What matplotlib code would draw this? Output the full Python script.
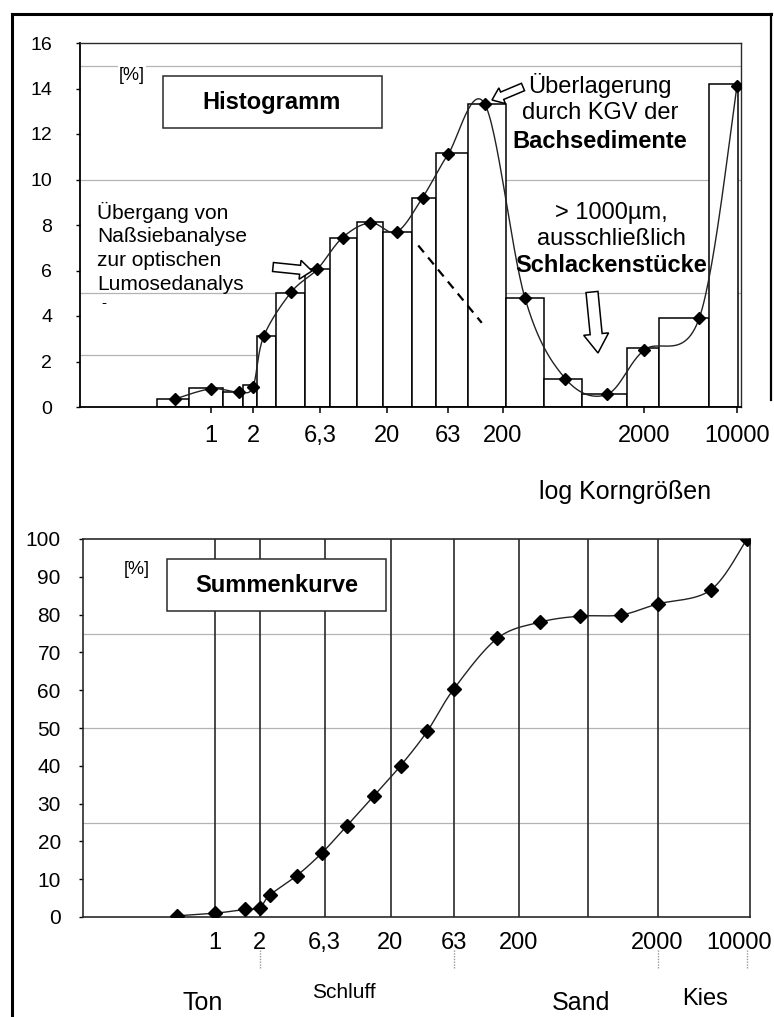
import numpy as np
import matplotlib
matplotlib.use("Agg")
import matplotlib.pyplot as plt
from matplotlib.patches import FancyArrow, Rectangle
from matplotlib.transforms import blended_transform_factory, ScaledTranslation

# ---------------- data ----------------
grain_size = [0.55, 1.0, 1.6, 2.0, 2.4, 3.85, 6.0, 9.3, 15, 24, 39, 63,
              137, 286, 553, 1090, 2000, 5200, 10000]          # µm
hist_pct = [0.35, 0.8, 0.65, 0.9, 3.1, 5.05, 6.05, 7.45, 8.1, 7.7, 9.2,
            11.1, 13.3, 4.8, 1.25, 0.55, 2.5, 3.9, 14.1]
bin_edges = [0.41, 0.70, 1.22, 1.70, 2.14, 2.97, 4.9, 7.5, 11.9, 18.7, 32,
             50, 96, 210, 390, 725, 1510, 2590, 6170, 10190]
bin_height = [0.35, 0.83, 0.65, 0.97, 3.1, 5.0, 6.05, 7.45, 8.15, 7.7, 9.2,
              11.15, 13.3, 4.8, 1.25, 0.57, 2.6, 3.9, 14.2]
cum_pct = [0.3, 1.0, 2.0, 2.4, 5.8, 10.9, 16.9, 24.1, 32.1, 40.0, 49.1,
           60.2, 73.7, 78.0, 79.6, 79.9, 82.8, 86.5, 100]
tick_vals = [1, 2, 6.3, 20, 63, 200, 2000, 10000]
tick_labels = ["1", "2", "6,3", "20", "63", "200", "2000", "10000"]
class_bounds = [1, 2, 6.3, 20, 63, 200, 630, 2000]
class_marks = [2, 63, 2000, 10000]
class_names = ["Ton", "Schluff", "Sand", "Kies"]
hist_grid = [15, 10, 5]
cum_grid = [25, 50, 75]
trend_x = [36, 128]
trend_y = [7.1, 3.7]

# ---------------- layout ----------------
W, H = 774, 1017
fig = plt.figure(figsize=(W / 100, H / 100), dpi=100)
fig.patch.set_facecolor("white")
FONT = "Liberation Sans"
plt.rcParams["font.family"] = [FONT, "DejaVu Sans"]


def px_axes(l, t, r, b):
    return fig.add_axes([l / W, 1 - b / H, (r - l) / W, (b - t) / H])


def make_scale(vals, pos):
    L = np.log10(vals)
    pos = np.asarray(pos, float)
    s0 = (pos[1] - pos[0]) / (L[1] - L[0])
    s1 = (pos[-1] - pos[-2]) / (L[-1] - L[-2])
    Lx = np.concatenate([[L[0] - 10], L, [L[-1] + 10]])
    Px = np.concatenate([[pos[0] - 10 * s0], pos, [pos[-1] + 10 * s1]])

    def fwd(x):
        return np.interp(np.log10(np.clip(np.asarray(x, float), 1e-12, None)), Lx, Px)

    def inv(u):
        return 10 ** np.interp(np.asarray(u, float), Px, Lx)
    return fwd, inv


def smooth(x, y, fwd, inv, n=30):
    P = np.column_stack([fwd(np.asarray(x, float)), np.asarray(y, float)])
    P = np.vstack([P[0], P, P[-1]])
    out = []
    t = np.linspace(0, 1, n, endpoint=False)[:, None]
    for i in range(1, len(P) - 2):
        p0, p1, p2, p3 = P[i - 1], P[i], P[i + 1], P[i + 2]
        c1 = p1 + (p2 - p0) / 6
        c2 = p2 - (p3 - p1) / 6
        out.append((1 - t) ** 3 * p1 + 3 * (1 - t) ** 2 * t * c1
                   + 3 * (1 - t) * t ** 2 * c2 + t ** 3 * p2)
    out.append(P[-2][None, :])
    S = np.vstack(out)
    return inv(S[:, 0]), S[:, 1]


GRID_LIGHT = "#b4b4b4"
DARK = "#2a2a2a"

# ================= top: Histogramm =================
fwd_t, inv_t = make_scale(tick_vals, [211, 253, 320, 387, 448, 503, 644, 737])
ax1 = px_axes(80, 43, 741, 407)
ax1.set_xscale("function", functions=(fwd_t, inv_t))
ax1.set_xlim(inv_t(80), inv_t(741))
ax1.set_ylim(0, 16)
for g in hist_grid:
    ax1.axhline(g, color=GRID_LIGHT, lw=0.9, zorder=0.5)
ax1.axhline(2.3, xmax=0.27, color=GRID_LIGHT, lw=0.9, zorder=0.5)

edges = np.asarray(bin_edges)
ax1.bar(edges[:-1], bin_height, width=np.diff(edges), align="edge",
        facecolor="white", edgecolor="black", linewidth=1.1, zorder=2)
sx, sy = smooth(grain_size, hist_pct, fwd_t, inv_t)
ax1.plot(sx, sy, color="#222222", lw=1.0, zorder=3)
ax1.plot(grain_size, hist_pct, ls="none", marker="D", ms=6.5,
         color="black", zorder=4)
ax1.plot(trend_x, trend_y, ls=(0, (4, 3)), color="black", lw=1.6, zorder=3)

ax1.set_xticks(tick_vals)
ax1.set_xticklabels(tick_labels)
ax1.xaxis.set_minor_locator(matplotlib.ticker.NullLocator())
ax1.set_yticks(range(0, 17, 2))
ax1.tick_params(axis="x", direction="inout", length=8, width=1.1,
                labelsize=17, pad=9, colors="black")
ax1.tick_params(axis="y", direction="out", length=3, width=1.0,
                labelsize=14, pad=17)
for s in ["left", "bottom"]:
    ax1.spines[s].set_linewidth(1.3)
    ax1.spines[s].set_color("black")
for s in ["top", "right"]:
    ax1.spines[s].set_linewidth(1.0)
    ax1.spines[s].set_color(DARK)

# ================= bottom: Summenkurve =================
fwd_b, inv_b = make_scale(tick_vals, [215, 259.5, 324.5, 390.5, 453.5, 518.5, 657.5, 747])
ax2 = px_axes(83, 539, 750, 917)
ax2.set_xscale("function", functions=(fwd_b, inv_b))
ax2.set_xlim(inv_b(83), inv_b(750))
ax2.set_ylim(0, 100)
for g in cum_grid:
    ax2.axhline(g, color=GRID_LIGHT, lw=0.9, zorder=0.5)
for b in class_bounds:
    ax2.axvline(b, color=DARK, lw=1.2, zorder=1)
cx, cy = smooth(grain_size, cum_pct, fwd_b, inv_b)
ax2.plot(cx, cy, color="#222222", lw=1.0, zorder=3)
ax2.plot(grain_size, cum_pct, ls="none", marker="D", ms=7,
         color="black", zorder=4)
ax2.set_xticks(tick_vals)
ax2.set_xticklabels(tick_labels)
ax2.xaxis.set_minor_locator(matplotlib.ticker.NullLocator())
ax2.set_yticks(range(0, 101, 10))
ax2.tick_params(axis="x", length=0, labelsize=17, pad=11)
ax2.tick_params(axis="y", direction="out", length=3, width=1.0,
                labelsize=15, pad=13)
# keep the last label inside the figure edge
last_lab = ax2.get_xticklabels()[-1]
last_lab.set_transform(last_lab.get_transform()
                       + ScaledTranslation(-0.08, 0, fig.dpi_scale_trans))
for s in ax2.spines.values():
    s.set_linewidth(1.2)
    s.set_color(DARK)
tr = blended_transform_factory(ax2.transData, ax2.transAxes)
ax2.vlines(class_marks, -0.135, -0.087, transform=tr, clip_on=False,
           colors="#9a9a9a", linestyles=(0, (1, 1)), lw=1.0)

# ================= overlay (frame, texts, arrows) =================
ov = fig.add_axes([0, 0, 1, 1], zorder=10)
ov.set_xlim(0, W)
ov.set_ylim(H, 0)
ov.axis("off")
ov.patch.set_visible(False)

ov.plot([12, 12], [14, H], color="black", lw=2.2)
ov.plot([12, 771], [14, 14], color="black", lw=2.2)
ov.plot([771, 771], [14, 400], color="black", lw=1.6)

# title boxes
ov.add_patch(Rectangle((163, 76), 219, 52, facecolor="white", edgecolor=DARK, lw=1.1))
ov.text(272, 103, "Histogramm", ha="center", va="center", fontsize=17, fontweight="bold")
ov.add_patch(Rectangle((167, 559), 219, 52, facecolor="white", edgecolor=DARK, lw=1.1))
ov.text(277, 586, "Summenkurve", ha="center", va="center", fontsize=17, fontweight="bold")
ov.text(132, 75, "[%]", ha="center", va="center", fontsize=13,
        bbox=dict(facecolor="white", edgecolor="none", pad=1))
ov.text(137, 570, "[%]", ha="center", va="center", fontsize=13)

# annotations in top chart
for txt, yy in zip(["Übergang von", "Naßsiebanalyse", "zur optischen", "Lumosedanalys"],
                   [212, 237, 261, 285]):
    ov.text(97, yy, txt, ha="left", va="center", fontsize=15)
ov.text(101, 303, "-", ha="left", va="center", fontsize=11)

for txt, yy, w in zip(["Überlagerung", "durch KGV der", "Bachsedimente"],
                      [86, 113, 141], ["normal", "normal", "bold"]):
    ov.text(600, yy, txt, ha="center", va="center", fontsize=17, fontweight=w)
for txt, yy, w in zip(["> 1000µm,", "ausschließlich", "Schlackenstücke"],
                      [213, 239, 266], ["normal", "normal", "bold"]):
    ov.text(611, yy, txt, ha="center", va="center", fontsize=17, fontweight=w)

# arrows (hollow)
akw = dict(facecolor="white", edgecolor="black", lw=1.1, length_includes_head=True, zorder=12)
ov.add_patch(FancyArrow(273, 267, 39, 4, width=9, head_width=19, head_length=12, **akw))
ov.add_patch(FancyArrow(523, 87, -31, 13, width=8, head_width=17, head_length=11, **akw))
ov.add_patch(FancyArrow(592, 292, 6, 61, width=12, head_width=25, head_length=19, **akw))

# axis title and class names
ov.text(625, 492, "log Korngrößen", ha="center", va="center", fontsize=18)
ov.text(203, 1010, "Ton", ha="center", va="baseline", fontsize=18)
ov.text(344, 998, "Schluff", ha="center", va="baseline", fontsize=15)
ov.text(581, 1010, "Sand", ha="center", va="baseline", fontsize=18)
ov.text(705, 1005, "Kies", ha="center", va="baseline", fontsize=17)

fig.savefig("out.png", dpi=100, facecolor="white")
